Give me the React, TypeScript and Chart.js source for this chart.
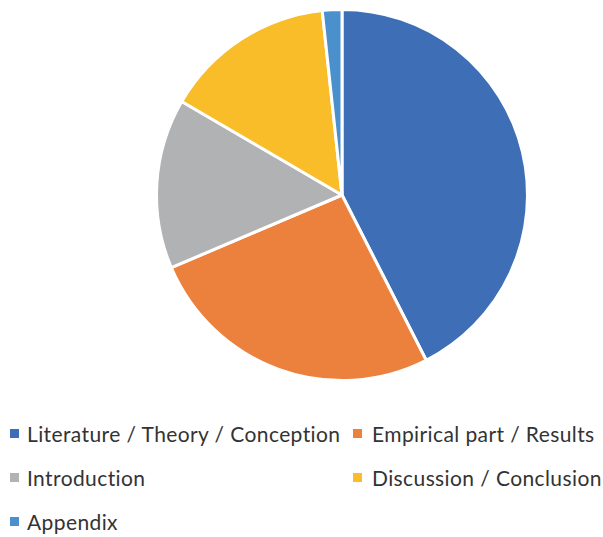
import React, { useEffect, useRef } from "react";
import { Chart, registerables } from "chart.js";

Chart.register(...registerables);

const labels: string[] = [
  "Literature / Theory / Conception",
  "Empirical part / Results",
  "Introduction",
  "Discussion / Conclusion",
  "Appendix",
];
const values: number[] = [42.5, 26.1, 14.8, 14.9, 1.7];
const colors: string[] = ["#3D6EB6", "#EC813D", "#B1B2B4", "#F9BD29", "#4A90CD"];

export default function App() {
  const ref = useRef<HTMLCanvasElement | null>(null);
  useEffect(() => {
    if (!ref.current) return;
    const chart = new Chart(ref.current, {
      type: "pie",
      data: {
        labels,
        datasets: [
          {
            data: values,
            backgroundColor: colors,
            borderColor: "#ffffff",
            borderWidth: 3,
          },
        ],
      },
      options: {
        responsive: false,
        animation: false,
        layout: { padding: { left: 81, top: 8, bottom: 18, right: 0 } },
        plugins: {
          legend: { display: false },
          tooltip: { enabled: false },
        },
      },
    });
    return () => chart.destroy();
  }, []);

  const rowCenters = [434, 478, 522];
  const boxX = [10, 353];
  const textX = [27, 372];

  return (
    <div
      style={{
        position: "absolute",
        left: 0,
        top: 0,
        width: 603,
        height: 537,
        background: "#fff",
        fontFamily: "Lato, sans-serif",
      }}
    >
      <canvas
        ref={ref}
        width={603}
        height={400}
        style={{ position: "absolute", left: 0, top: 0, width: 603, height: 400 }}
      />
      {labels.map((l, i) => {
        const row = Math.floor(i / 2);
        const col = i % 2;
        const cy = rowCenters[row];
        return (
          <React.Fragment key={l}>
            <div
              style={{
                position: "absolute",
                left: boxX[col],
                top: cy - 5,
                width: 9,
                height: 9,
                background: colors[i],
              }}
            />
            <div
              style={{
                position: "absolute",
                left: textX[col],
                top: cy - 11,
                lineHeight: "21px",
                fontSize: 21,
                letterSpacing: "0.4px",
                whiteSpace: "nowrap",
                color: "#333333",
              }}
            >
              {l}
            </div>
          </React.Fragment>
        );
      })}
    </div>
  );
}
